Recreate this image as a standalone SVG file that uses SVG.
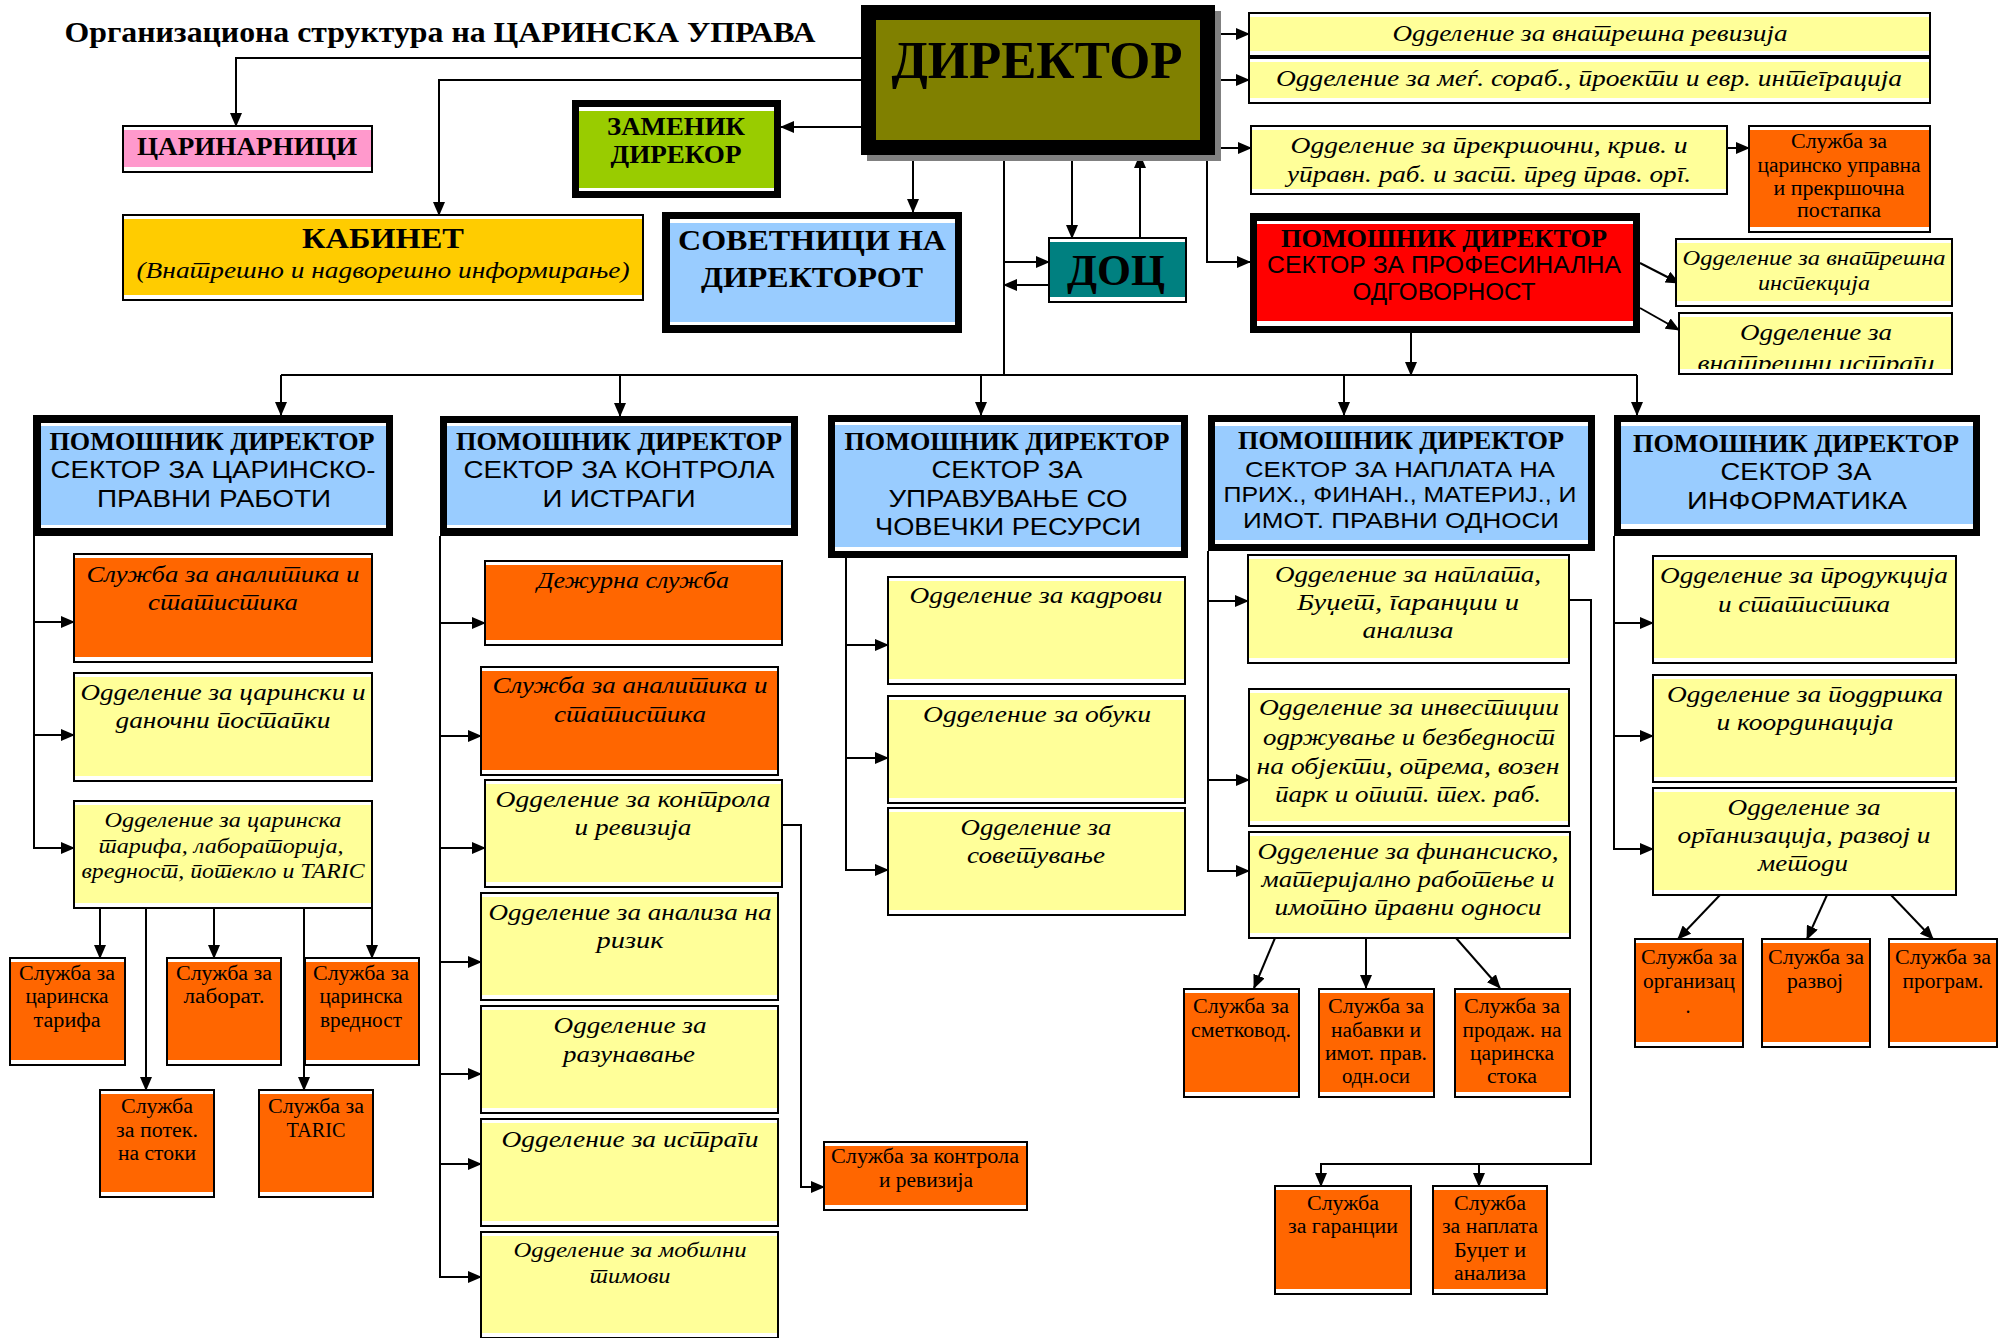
<svg xmlns="http://www.w3.org/2000/svg" width="2003" height="1338" viewBox="0 0 2003 1338" xml:lang="mk" lang="mk">
<defs>
<style>
text{text-anchor:middle;fill:#000}
.b{font-family:"Liberation Serif","Times New Roman",serif;font-weight:bold}
.i{font-family:"Liberation Serif","Times New Roman",serif;font-style:italic}
.r{font-family:"Liberation Serif","Times New Roman",serif}
.s{font-family:"Liberation Sans",Arial,sans-serif}
.o{fill:#fff;stroke:#000;stroke-width:2}
.k{fill:#000}
.w{fill:#fff}
.Y{fill:#FFFF99}
.O{fill:#FF6600}
.L{fill:#99CCFF}
.c path{fill:none;stroke:#000;stroke-width:2}
.c path.a{marker-end:url(#ar)}
</style>
<marker id="ar" markerUnits="userSpaceOnUse" markerWidth="14" markerHeight="12" refX="13" refY="6" orient="auto" viewBox="0 0 14 12"><path d="M0,0 L14,6 L0,12 z" fill="#000"/></marker>
<clipPath id="cl7"><rect x="1680" y="317" width="271" height="52"/></clipPath>
</defs>
<rect x="0" y="0" width="2003" height="1338" fill="#fff"/>
<text class="b" x="440" y="42" font-size="30" textLength="751" lengthAdjust="spacingAndGlyphs">Организациона структура на ЦАРИНСКА УПРАВА</text>

<g class="c" id="connectors">
<path d="M1004,155 V375"/>
<path d="M281,375 H1637"/>
<path class="a" d="M861,58 H236 V126"/>
<path class="a" d="M861,80 H439 V215"/>
<path class="a" d="M861,127 H781"/>
<path class="a" d="M913,155 V212"/>
<path class="a" d="M1072,155 V238"/>
<path class="a" d="M1140,238 V155"/>
<path class="a" d="M1004,262 H1049"/>
<path class="a" d="M1049,285 H1004"/>
<path class="a" d="M1207,155 V262 H1250"/>
<path class="a" d="M1215,34 H1249"/>
<path class="a" d="M1215,80 H1249"/>
<path class="a" d="M1215,148 H1251"/>
<path class="a" d="M1727,148 H1749"/>
<path class="a" d="M1640,263 L1679,283"/>
<path class="a" d="M1640,308 L1679,330"/>
<path class="a" d="M1411,333 V375"/>
<path class="a" d="M281,375 V415"/>
<path class="a" d="M620,375 V416"/>
<path class="a" d="M981,375 V415"/>
<path class="a" d="M1344,375 V415"/>
<path class="a" d="M1637,375 V415"/>
<path class="a" d="M34,536 V848 H74"/>
<path class="a" d="M34,622 H74"/>
<path class="a" d="M34,735 H74"/>
<path class="a" d="M100,908 V958"/>
<path class="a" d="M146,908 V1090"/>
<path class="a" d="M214,908 V958"/>
<path class="a" d="M304,908 V1090"/>
<path class="a" d="M372,908 V958"/>
<path class="a" d="M440,536 V1277 H481"/>
<path class="a" d="M440,623 H485"/>
<path class="a" d="M440,736 H481"/>
<path class="a" d="M440,848 H485"/>
<path class="a" d="M440,962 H481"/>
<path class="a" d="M440,1074 H481"/>
<path class="a" d="M440,1164 H481"/>
<path class="a" d="M782,825 H801 V1187 H824"/>
<path class="a" d="M846,558 V870 H888"/>
<path class="a" d="M846,645 H888"/>
<path class="a" d="M846,758 H888"/>
<path class="a" d="M1208,551 V871 H1249"/>
<path class="a" d="M1208,601 H1248"/>
<path class="a" d="M1208,780 H1249"/>
<path class="a" d="M1569,600 H1591 V1164 H1321 V1186"/>
<path class="a" d="M1479,1164 V1186"/>
<path class="a" d="M1275,938 L1254,988"/>
<path class="a" d="M1366,938 V988"/>
<path class="a" d="M1456,938 L1500,988"/>
<path class="a" d="M1614,536 V849 H1653"/>
<path class="a" d="M1614,623 H1653"/>
<path class="a" d="M1614,736 H1653"/>
<path class="a" d="M1720,895 L1678,939"/>
<path class="a" d="M1827,895 L1807,939"/>
<path class="a" d="M1891,895 L1933,939"/>
</g>

<g id="direktor">
<rect x="867" y="11" width="354" height="150" fill="#808080"/>
<rect class="k" x="861" y="5" width="354" height="150"/>
<rect x="876" y="20" width="324" height="120" fill="#808000"/>
<text class="b" x="1037" y="78" font-size="52" textLength="291" lengthAdjust="spacingAndGlyphs">ДИРЕКТОР</text>
</g>

<g id="carinarnici">
<rect class="o" x="123" y="126" width="249" height="46"/>
<rect x="124" y="130" width="247" height="37" fill="#FF99CC"/>
<text class="b" x="247" y="155" font-size="26" textLength="220" lengthAdjust="spacingAndGlyphs">ЦАРИНАРНИЦИ</text>
</g>

<g id="zamenik">
<rect class="k" x="572" y="100" width="209" height="98"/>
<rect class="w" x="579" y="107" width="195" height="84"/>
<rect x="579" y="111" width="195" height="77" fill="#99CC00"/>
<text class="b" x="676" y="135" font-size="25" textLength="138" lengthAdjust="spacingAndGlyphs">ЗАМЕНИК</text>
<text class="b" x="676" y="163" font-size="25" textLength="131" lengthAdjust="spacingAndGlyphs">ДИРЕКОР</text>
</g>

<g id="kabinet">
<rect class="o" x="123" y="215" width="520" height="85"/>
<rect x="124" y="219" width="518" height="76" fill="#FFCC00"/>
<text class="b" x="383" y="248" font-size="30" textLength="162" lengthAdjust="spacingAndGlyphs">КАБИНЕТ</text>
<text class="i" x="383" y="278" font-size="24" textLength="493" lengthAdjust="spacingAndGlyphs">(Внатрешно и надворешно информирање)</text>
</g>

<g id="sovetnici">
<rect class="k" x="662" y="212" width="300" height="121"/>
<rect class="w" x="670" y="219" width="285" height="106"/>
<rect class="L" x="670" y="223" width="285" height="99"/>
<text class="b" x="812" y="250" font-size="30" textLength="268" lengthAdjust="spacingAndGlyphs">СОВЕТНИЦИ НА</text>
<text class="b" x="812" y="287" font-size="30" textLength="222" lengthAdjust="spacingAndGlyphs">ДИРЕКТОРОТ</text>
</g>

<g id="doc">
<rect class="o" x="1049" y="238" width="137" height="64"/>
<rect x="1050" y="242" width="135" height="55" fill="#008080"/>
<text class="b" x="1116" y="285" font-size="44" textLength="98" lengthAdjust="spacingAndGlyphs">ДОЦ</text>
</g>

<g id="pd-profesionalna">
<rect class="k" x="1250" y="213" width="390" height="120"/>
<rect class="w" x="1257" y="221" width="376" height="105"/>
<rect x="1257" y="224" width="376" height="97" fill="#FF0000"/>
<text class="b" x="1444" y="247" font-size="25" textLength="326" lengthAdjust="spacingAndGlyphs">ПОМОШНИК ДИРЕКТОР</text>
<text class="s" x="1444" y="273" font-size="23" textLength="354" lengthAdjust="spacingAndGlyphs">СЕКТОР ЗА ПРОФЕСИНАЛНА</text>
<text class="s" x="1444" y="300" font-size="23" textLength="183" lengthAdjust="spacingAndGlyphs">ОДГОВОРНОСТ</text>
</g>

<g id="odd-revizija">
<rect class="o" x="1249" y="13" width="681" height="43"/>
<rect class="Y" x="1250" y="17" width="679" height="34"/>
<text class="i" x="1590" y="41" font-size="24" textLength="395" lengthAdjust="spacingAndGlyphs">Одделение за внатрешна ревизија</text>
</g>

<g id="odd-megj">
<rect class="o" x="1249" y="58" width="681" height="45"/>
<rect class="Y" x="1250" y="62" width="679" height="36"/>
<text class="i" x="1589" y="86" font-size="24" textLength="626" lengthAdjust="spacingAndGlyphs">Одделение за меѓ. сораб., проекти и  евр. интеграција</text>
</g>

<g id="odd-prekrsocni">
<rect class="o" x="1251" y="126" width="476" height="68"/>
<rect class="Y" x="1252" y="130" width="474" height="59"/>
<text class="i" x="1489" y="153" font-size="24" textLength="397" lengthAdjust="spacingAndGlyphs">Одделение за прекршочни, крив. и</text>
<text class="i" x="1489" y="182" font-size="24" textLength="404" lengthAdjust="spacingAndGlyphs">управн. раб. и заст. пред прав. орг.</text>
</g>

<g id="sl-carinsko-upravna">
<rect class="o" x="1749" y="126" width="181" height="106"/>
<rect class="O" x="1750" y="130" width="179" height="97"/>
<text class="r" x="1839" y="148" font-size="20" textLength="96" lengthAdjust="spacingAndGlyphs">Служба за</text>
<text class="r" x="1839" y="172" font-size="20" textLength="163" lengthAdjust="spacingAndGlyphs">царинско управна</text>
<text class="r" x="1839" y="195" font-size="20" textLength="131" lengthAdjust="spacingAndGlyphs">и прекршочна</text>
<text class="r" x="1839" y="217" font-size="20" textLength="84" lengthAdjust="spacingAndGlyphs">постапка</text>
</g>

<g id="odd-vn-inspekcija">
<rect class="o" x="1676" y="239" width="276" height="67"/>
<rect class="Y" x="1677" y="243" width="274" height="58"/>
<text class="i" x="1814" y="265" font-size="22" textLength="263" lengthAdjust="spacingAndGlyphs">Одделение за внатрешна</text>
<text class="i" x="1814" y="290" font-size="22" textLength="112" lengthAdjust="spacingAndGlyphs">инспекција</text>
</g>

<g id="odd-vn-istragi">
<rect class="o" x="1679" y="313" width="273" height="61"/>
<rect class="Y" x="1680" y="317" width="271" height="52"/>
<g clip-path="url(#cl7)">
<text class="i" x="1816" y="340" font-size="24" textLength="152" lengthAdjust="spacingAndGlyphs">Одделение за</text>
<text class="i" x="1816" y="371" font-size="24" textLength="237" lengthAdjust="spacingAndGlyphs">внатрешни истраги</text>
</g>
</g>

<g id="sektor-carinsko-pravni">
<rect class="k" x="33" y="415" width="360" height="121"/>
<rect class="w" x="41" y="423" width="345" height="105"/>
<rect class="L" x="41" y="426" width="345" height="99"/>
<text class="b" x="212" y="450" font-size="25" textLength="325" lengthAdjust="spacingAndGlyphs">ПОМОШНИК ДИРЕКТОР</text>
<text class="s" x="213" y="478" font-size="24" textLength="325" lengthAdjust="spacingAndGlyphs">СЕКТОР ЗА ЦАРИНСКО-</text>
<text class="s" x="214" y="507" font-size="24" textLength="234" lengthAdjust="spacingAndGlyphs">ПРАВНИ РАБОТИ</text>
</g>

<g id="sektor-kontrola">
<rect class="k" x="440" y="416" width="358" height="120"/>
<rect class="w" x="447" y="423" width="344" height="105"/>
<rect class="L" x="447" y="426" width="344" height="99"/>
<text class="b" x="619" y="450" font-size="25" textLength="326" lengthAdjust="spacingAndGlyphs">ПОМОШНИК ДИРЕКТОР</text>
<text class="s" x="619" y="478" font-size="24" textLength="311" lengthAdjust="spacingAndGlyphs">СЕКТОР ЗА КОНТРОЛА</text>
<text class="s" x="619" y="507" font-size="24" textLength="153" lengthAdjust="spacingAndGlyphs">И ИСТРАГИ</text>
</g>

<g id="sektor-covecki">
<rect class="k" x="828" y="415" width="360" height="143"/>
<rect class="w" x="835" y="422" width="346" height="129"/>
<rect class="L" x="835" y="425" width="346" height="122"/>
<text class="b" x="1007" y="450" font-size="25" textLength="325" lengthAdjust="spacingAndGlyphs">ПОМОШНИК ДИРЕКТОР</text>
<text class="s" x="1007" y="478" font-size="24" textLength="151" lengthAdjust="spacingAndGlyphs">СЕКТОР ЗА</text>
<text class="s" x="1008" y="507" font-size="24" textLength="239" lengthAdjust="spacingAndGlyphs">УПРАВУВАЊЕ СО</text>
<text class="s" x="1008" y="535" font-size="24" textLength="266" lengthAdjust="spacingAndGlyphs">ЧОВЕЧКИ РЕСУРСИ</text>
</g>

<g id="sektor-naplata">
<rect class="k" x="1208" y="415" width="387" height="136"/>
<rect class="w" x="1215" y="422" width="373" height="122"/>
<rect class="L" x="1215" y="426" width="373" height="114"/>
<text class="b" x="1401" y="449" font-size="25" textLength="326" lengthAdjust="spacingAndGlyphs">ПОМОШНИК ДИРЕКТОР</text>
<text class="s" x="1400" y="477" font-size="22" textLength="310" lengthAdjust="spacingAndGlyphs">СЕКТОР ЗА НАПЛАТА НА</text>
<text class="s" x="1400" y="502" font-size="22" textLength="353" lengthAdjust="spacingAndGlyphs">ПРИХ., ФИНАН.,  МАТЕРИЈ., И</text>
<text class="s" x="1401" y="528" font-size="22" textLength="316" lengthAdjust="spacingAndGlyphs">ИМОТ.  ПРАВНИ  ОДНОСИ</text>
</g>

<g id="sektor-informatika">
<rect class="k" x="1614" y="415" width="366" height="121"/>
<rect class="w" x="1621" y="422" width="352" height="107"/>
<rect class="L" x="1621" y="426" width="352" height="98"/>
<text class="b" x="1796" y="452" font-size="25" textLength="326" lengthAdjust="spacingAndGlyphs">ПОМОШНИК ДИРЕКТОР</text>
<text class="s" x="1796" y="480" font-size="24" textLength="151" lengthAdjust="spacingAndGlyphs">СЕКТОР ЗА</text>
<text class="s" x="1797" y="509" font-size="24" textLength="220" lengthAdjust="spacingAndGlyphs">ИНФОРМАТИКА</text>
</g>

<g id="c1-sl-analitika">
<rect class="o" x="74" y="554" width="298" height="108"/>
<rect class="O" x="75" y="558" width="296" height="99"/>
<text class="i" x="223" y="582" font-size="24" textLength="273" lengthAdjust="spacingAndGlyphs">Служба за аналитика и</text>
<text class="i" x="223" y="610" font-size="24" textLength="150" lengthAdjust="spacingAndGlyphs">статистика</text>
</g>
<g id="c1-odd-carinski">
<rect class="o" x="74" y="673" width="298" height="108"/>
<rect class="Y" x="75" y="677" width="296" height="99"/>
<text class="i" x="223" y="700" font-size="24" textLength="285" lengthAdjust="spacingAndGlyphs">Одделение за царински и</text>
<text class="i" x="223" y="728" font-size="24" textLength="215" lengthAdjust="spacingAndGlyphs">даночни постапки</text>
</g>
<g id="c1-odd-tarifa">
<rect class="o" x="74" y="801" width="298" height="107"/>
<rect class="Y" x="75" y="805" width="296" height="98"/>
<text class="i" x="223" y="827" font-size="21" textLength="237" lengthAdjust="spacingAndGlyphs">Одделение за царинска</text>
<text class="i" x="221" y="853" font-size="21" textLength="245" lengthAdjust="spacingAndGlyphs">тарифа, лабораторија,</text>
<text class="i" x="223" y="878" font-size="21" textLength="283" lengthAdjust="spacingAndGlyphs">вредност, потекло и TARIC</text>
</g>
<g id="c1-sl-tarifa">
<rect class="o" x="10" y="958" width="115" height="107"/>
<rect class="O" x="11" y="962" width="113" height="98"/>
<text class="r" x="67" y="980" font-size="20" textLength="96" lengthAdjust="spacingAndGlyphs">Служба за</text>
<text class="r" x="67" y="1003" font-size="20" textLength="83" lengthAdjust="spacingAndGlyphs">царинска</text>
<text class="r" x="67" y="1027" font-size="20" textLength="67" lengthAdjust="spacingAndGlyphs">тарифа</text>
</g>
<g id="c1-sl-laborat">
<rect class="o" x="167" y="958" width="114" height="107"/>
<rect class="O" x="168" y="962" width="112" height="98"/>
<text class="r" x="224" y="980" font-size="20" textLength="96" lengthAdjust="spacingAndGlyphs">Служба за</text>
<text class="r" x="224" y="1003" font-size="20" textLength="81" lengthAdjust="spacingAndGlyphs">лаборат.</text>
</g>
<g id="c1-sl-vrednost">
<rect class="o" x="305" y="958" width="114" height="107"/>
<rect class="O" x="306" y="962" width="112" height="98"/>
<text class="r" x="361" y="980" font-size="20" textLength="96" lengthAdjust="spacingAndGlyphs">Служба за</text>
<text class="r" x="361" y="1003" font-size="20" textLength="83" lengthAdjust="spacingAndGlyphs">царинска</text>
<text class="r" x="361" y="1027" font-size="20" textLength="82" lengthAdjust="spacingAndGlyphs">вредност</text>
</g>
<g id="c1-sl-potek">
<rect class="o" x="100" y="1090" width="114" height="107"/>
<rect class="O" x="101" y="1094" width="112" height="98"/>
<text class="r" x="157" y="1113" font-size="20" textLength="72" lengthAdjust="spacingAndGlyphs">Служба</text>
<text class="r" x="157" y="1137" font-size="20" textLength="82" lengthAdjust="spacingAndGlyphs">за потек.</text>
<text class="r" x="157" y="1160" font-size="20" textLength="78" lengthAdjust="spacingAndGlyphs">на стоки</text>
</g>
<g id="c1-sl-taric">
<rect class="o" x="259" y="1090" width="114" height="107"/>
<rect class="O" x="260" y="1094" width="112" height="98"/>
<text class="r" x="316" y="1113" font-size="20" textLength="96" lengthAdjust="spacingAndGlyphs">Служба за</text>
<text class="r" x="316" y="1137" font-size="20" textLength="59" lengthAdjust="spacingAndGlyphs">TARIC</text>
</g>

<g id="c2-dezurna">
<rect class="o" x="485" y="561" width="297" height="84"/>
<rect class="O" x="486" y="565" width="295" height="75"/>
<text class="i" x="633" y="588" font-size="24" textLength="192" lengthAdjust="spacingAndGlyphs">Дежурна служба</text>
</g>
<g id="c2-sl-analitika">
<rect class="o" x="481" y="667" width="297" height="108"/>
<rect class="O" x="482" y="671" width="295" height="99"/>
<text class="i" x="630" y="693" font-size="24" textLength="275" lengthAdjust="spacingAndGlyphs">Служба за аналитика и</text>
<text class="i" x="630" y="722" font-size="24" textLength="152" lengthAdjust="spacingAndGlyphs">статистика</text>
</g>
<g id="c2-odd-kontrola">
<rect class="o" x="485" y="780" width="297" height="107"/>
<rect class="Y" x="486" y="784" width="295" height="98"/>
<text class="i" x="633" y="807" font-size="24" textLength="275" lengthAdjust="spacingAndGlyphs">Одделение за контрола</text>
<text class="i" x="633" y="835" font-size="24" textLength="117" lengthAdjust="spacingAndGlyphs">и ревизија</text>
</g>
<g id="c2-odd-rizik">
<rect class="o" x="481" y="893" width="297" height="107"/>
<rect class="Y" x="482" y="897" width="295" height="98"/>
<text class="i" x="630" y="920" font-size="24" textLength="283" lengthAdjust="spacingAndGlyphs">Одделение за анализа на</text>
<text class="i" x="630" y="948" font-size="24" textLength="67" lengthAdjust="spacingAndGlyphs">ризик</text>
</g>
<g id="c2-odd-razunavanje">
<rect class="o" x="481" y="1006" width="297" height="107"/>
<rect class="Y" x="482" y="1010" width="295" height="98"/>
<text class="i" x="630" y="1033" font-size="24" textLength="153" lengthAdjust="spacingAndGlyphs">Одделение за</text>
<text class="i" x="629" y="1062" font-size="24" textLength="132" lengthAdjust="spacingAndGlyphs">разунавање</text>
</g>
<g id="c2-odd-istragi">
<rect class="o" x="481" y="1119" width="297" height="107"/>
<rect class="Y" x="482" y="1123" width="295" height="98"/>
<text class="i" x="630" y="1147" font-size="24" textLength="257" lengthAdjust="spacingAndGlyphs">Одделение за истраги</text>
</g>
<g id="c2-odd-mobilni">
<rect class="o" x="481" y="1232" width="297" height="106"/>
<rect class="Y" x="482" y="1236" width="295" height="97"/>
<text class="i" x="630" y="1257" font-size="21" textLength="233" lengthAdjust="spacingAndGlyphs">Одделение за мобилни</text>
<text class="i" x="630" y="1283" font-size="21" textLength="81" lengthAdjust="spacingAndGlyphs">тимови</text>
</g>
<g id="c2-sl-kontrola">
<rect class="o" x="824" y="1142" width="203" height="68"/>
<rect class="O" x="825" y="1146" width="201" height="59"/>
<text class="r" x="925" y="1163" font-size="20" textLength="188" lengthAdjust="spacingAndGlyphs">Служба за контрола</text>
<text class="r" x="926" y="1187" font-size="20" textLength="94" lengthAdjust="spacingAndGlyphs">и ревизија</text>
</g>

<g id="c3-odd-kadrovi">
<rect class="o" x="888" y="577" width="297" height="107"/>
<rect class="Y" x="889" y="581" width="295" height="98"/>
<text class="i" x="1036" y="603" font-size="24" textLength="253" lengthAdjust="spacingAndGlyphs">Одделение за кадрови</text>
</g>
<g id="c3-odd-obuki">
<rect class="o" x="888" y="696" width="297" height="107"/>
<rect class="Y" x="889" y="700" width="295" height="98"/>
<text class="i" x="1037" y="722" font-size="24" textLength="228" lengthAdjust="spacingAndGlyphs">Одделение за обуки</text>
</g>
<g id="c3-odd-sovetuvanje">
<rect class="o" x="888" y="808" width="297" height="107"/>
<rect class="Y" x="889" y="812" width="295" height="98"/>
<text class="i" x="1036" y="835" font-size="24" textLength="151" lengthAdjust="spacingAndGlyphs">Одделение за</text>
<text class="i" x="1036" y="863" font-size="24" textLength="138" lengthAdjust="spacingAndGlyphs">советување</text>
</g>

<g id="c4-odd-naplata">
<rect class="o" x="1248" y="555" width="321" height="108"/>
<rect class="Y" x="1249" y="559" width="319" height="99"/>
<text class="i" x="1408" y="582" font-size="23" textLength="266" lengthAdjust="spacingAndGlyphs">Одделение за наплата,</text>
<text class="i" x="1408" y="610" font-size="23" textLength="222" lengthAdjust="spacingAndGlyphs">Буџет, гаранции  и</text>
<text class="i" x="1408" y="638" font-size="23" textLength="91" lengthAdjust="spacingAndGlyphs">анализа</text>
</g>
<g id="c4-odd-investicii">
<rect class="o" x="1249" y="689" width="320" height="137"/>
<rect class="Y" x="1250" y="693" width="318" height="128"/>
<text class="i" x="1409" y="715" font-size="23" textLength="300" lengthAdjust="spacingAndGlyphs">Одделение за инвестиции</text>
<text class="i" x="1409" y="745" font-size="23" textLength="292" lengthAdjust="spacingAndGlyphs">одржување и безбедност</text>
<text class="i" x="1408" y="774" font-size="23" textLength="303" lengthAdjust="spacingAndGlyphs">на објекти, опрема,  возен</text>
<text class="i" x="1408" y="802" font-size="23" textLength="266" lengthAdjust="spacingAndGlyphs">парк и општ. тех. раб.</text>
</g>
<g id="c4-odd-finansisko">
<rect class="o" x="1249" y="832" width="321" height="106"/>
<rect class="Y" x="1250" y="836" width="319" height="97"/>
<text class="i" x="1408" y="859" font-size="23" textLength="301" lengthAdjust="spacingAndGlyphs">Одделение за финансиско,</text>
<text class="i" x="1408" y="887" font-size="23" textLength="293" lengthAdjust="spacingAndGlyphs">материјално работење и</text>
<text class="i" x="1408" y="915" font-size="23" textLength="267" lengthAdjust="spacingAndGlyphs">имотно правни односи</text>
</g>
<g id="c4-sl-smetkovod">
<rect class="o" x="1184" y="989" width="115" height="108"/>
<rect class="O" x="1185" y="993" width="113" height="99"/>
<text class="r" x="1241" y="1013" font-size="20" textLength="96" lengthAdjust="spacingAndGlyphs">Служба за</text>
<text class="r" x="1241" y="1037" font-size="20" textLength="100" lengthAdjust="spacingAndGlyphs">сметковод.</text>
</g>
<g id="c4-sl-nabavki">
<rect class="o" x="1319" y="989" width="115" height="108"/>
<rect class="O" x="1320" y="993" width="113" height="99"/>
<text class="r" x="1376" y="1013" font-size="20" textLength="96" lengthAdjust="spacingAndGlyphs">Служба за</text>
<text class="r" x="1376" y="1037" font-size="20" textLength="90" lengthAdjust="spacingAndGlyphs">набавки и</text>
<text class="r" x="1376" y="1060" font-size="20" textLength="102" lengthAdjust="spacingAndGlyphs">имот. прав.</text>
<text class="r" x="1376" y="1083" font-size="20" textLength="68" lengthAdjust="spacingAndGlyphs">одн.оси</text>
</g>
<g id="c4-sl-prodaz">
<rect class="o" x="1455" y="989" width="115" height="108"/>
<rect class="O" x="1456" y="993" width="113" height="99"/>
<text class="r" x="1512" y="1013" font-size="20" textLength="96" lengthAdjust="spacingAndGlyphs">Служба за</text>
<text class="r" x="1512" y="1037" font-size="20" textLength="99" lengthAdjust="spacingAndGlyphs">продаж. на</text>
<text class="r" x="1512" y="1060" font-size="20" textLength="84" lengthAdjust="spacingAndGlyphs">царинска</text>
<text class="r" x="1512" y="1083" font-size="20" textLength="50" lengthAdjust="spacingAndGlyphs">стока</text>
</g>
<g id="c4-sl-garancii">
<rect class="o" x="1275" y="1186" width="136" height="108"/>
<rect class="O" x="1276" y="1190" width="134" height="99"/>
<text class="r" x="1343" y="1210" font-size="20" textLength="72" lengthAdjust="spacingAndGlyphs">Служба</text>
<text class="r" x="1343" y="1233" font-size="20" textLength="110" lengthAdjust="spacingAndGlyphs">за гаранции</text>
</g>
<g id="c4-sl-naplata">
<rect class="o" x="1433" y="1186" width="114" height="108"/>
<rect class="O" x="1434" y="1190" width="112" height="99"/>
<text class="r" x="1490" y="1210" font-size="20" textLength="72" lengthAdjust="spacingAndGlyphs">Служба</text>
<text class="r" x="1490" y="1233" font-size="20" textLength="96" lengthAdjust="spacingAndGlyphs">за наплата</text>
<text class="r" x="1490" y="1257" font-size="20" textLength="72" lengthAdjust="spacingAndGlyphs">Буџет и</text>
<text class="r" x="1490" y="1280" font-size="20" textLength="72" lengthAdjust="spacingAndGlyphs">анализа</text>
</g>

<g id="c5-odd-produkcija">
<rect class="o" x="1653" y="556" width="303" height="107"/>
<rect class="Y" x="1654" y="560" width="301" height="98"/>
<text class="i" x="1804" y="583" font-size="23" textLength="288" lengthAdjust="spacingAndGlyphs">Одделение за продукција</text>
<text class="i" x="1804" y="612" font-size="23" textLength="172" lengthAdjust="spacingAndGlyphs">и статистика</text>
</g>
<g id="c5-odd-poddrska">
<rect class="o" x="1653" y="675" width="303" height="107"/>
<rect class="Y" x="1654" y="679" width="301" height="98"/>
<text class="i" x="1805" y="702" font-size="23" textLength="276" lengthAdjust="spacingAndGlyphs">Одделение за поддршка</text>
<text class="i" x="1805" y="730" font-size="23" textLength="177" lengthAdjust="spacingAndGlyphs">и координација</text>
</g>
<g id="c5-odd-organizacija">
<rect class="o" x="1653" y="788" width="303" height="107"/>
<rect class="Y" x="1654" y="792" width="301" height="98"/>
<text class="i" x="1804" y="815" font-size="23" textLength="153" lengthAdjust="spacingAndGlyphs">Одделение за</text>
<text class="i" x="1804" y="843" font-size="23" textLength="253" lengthAdjust="spacingAndGlyphs">организација, развој и</text>
<text class="i" x="1803" y="871" font-size="23" textLength="90" lengthAdjust="spacingAndGlyphs">методи</text>
</g>
<g id="c5-sl-organizac">
<rect class="o" x="1635" y="939" width="108" height="108"/>
<rect class="O" x="1636" y="943" width="106" height="99"/>
<text class="r" x="1689" y="964" font-size="20" textLength="96" lengthAdjust="spacingAndGlyphs">Служба за</text>
<text class="r" x="1689" y="988" font-size="20" textLength="92" lengthAdjust="spacingAndGlyphs">организац</text>
<text class="r" x="1688" y="1013" font-size="20">.</text>
</g>
<g id="c5-sl-razvoj">
<rect class="o" x="1762" y="939" width="108" height="108"/>
<rect class="O" x="1763" y="943" width="106" height="99"/>
<text class="r" x="1816" y="964" font-size="20" textLength="96" lengthAdjust="spacingAndGlyphs">Служба за</text>
<text class="r" x="1815" y="988" font-size="20" textLength="56" lengthAdjust="spacingAndGlyphs">развој</text>
</g>
<g id="c5-sl-program">
<rect class="o" x="1889" y="939" width="108" height="108"/>
<rect class="O" x="1890" y="943" width="106" height="99"/>
<text class="r" x="1943" y="964" font-size="20" textLength="96" lengthAdjust="spacingAndGlyphs">Служба за</text>
<text class="r" x="1943" y="988" font-size="20" textLength="81" lengthAdjust="spacingAndGlyphs">програм.</text>
</g>
</svg>
